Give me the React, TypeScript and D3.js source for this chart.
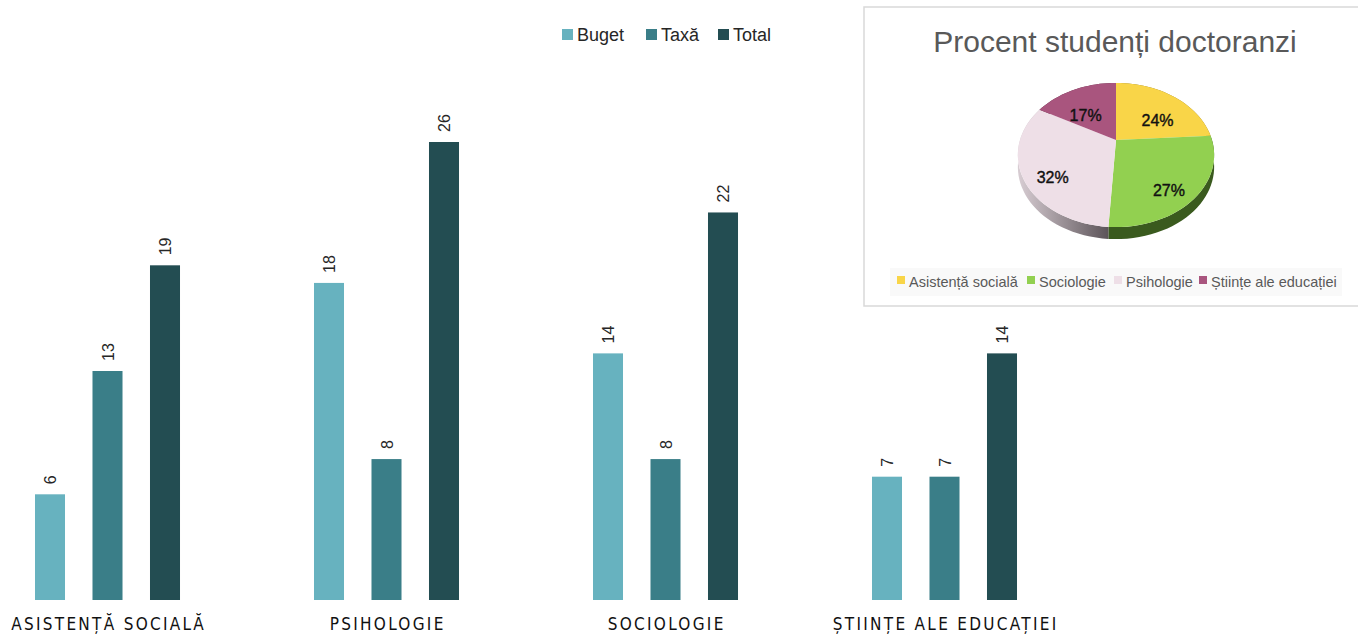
import React from "react";
import * as d3 from "d3";

const categories = ["ASISTENȚĂ SOCIALĂ", "PSIHOLOGIE", "SOCIOLOGIE", "ȘTIINȚE ALE EDUCAȚIEI"];
const seriesNames = ["Buget", "Taxă", "Total"];
const buget = [6, 18, 14, 7];
const taxa = [13, 8, 8, 7];
const total = [19, 26, 22, 14];
const seriesColors = ["#67B2BF", "#3A7E88", "#234D52"];

const pieTitle = "Procent studenți doctoranzi";
const pieLabels = ["Asistență socială", "Sociologie", "Psihologie", "Științe ale educației"];
const pieValues = [24, 27, 32, 17];
const pieColors = ["#F9D548", "#92D050", "#EEDFE7", "#A9557E"];
const pieSideColors = ["#8a7420", "#3a5a1e", "url(#pinkSide)", "#5a2a40"];

export default function App() {
  const W = 1358, H = 635;
  const seriesValues = [buget, taxa, total];

  const x0 = d3.scaleBand<string>().domain(categories).range([-32, 1084]).padding(0);
  const x1 = d3.scaleBand<string>().domain(seriesNames).range([-86.25, 86.25]).paddingInner(0.478).paddingOuter(0.239);
  const y = d3.scaleLinear().domain([0, 26]).range([600, 142]);

  // Pie projection (perspective tilt)
  const cx = 1116, cy = 140, rx = 96, ry = 69, k = 0.208, depth = 12;
  const proj = (a: number, r: number): [number, number] => {
    const u = r * Math.sin(a), v = -r * Math.cos(a);
    const den = 1 - k * v;
    return [cx + (rx * u) / den, cy + (ry * v) / den];
  };
  const arcs = d3.pie<number>().sort(null)(pieValues);
  const slicePath = (a0: number, a1: number) => {
    const n = Math.max(4, Math.ceil(((a1 - a0) / (2 * Math.PI)) * 120));
    const pts: [number, number][] = [[cx, cy]];
    for (let i = 0; i <= n; i++) pts.push(proj(a0 + ((a1 - a0) * i) / n, 1));
    return "M" + pts.map((p) => p.join(",")).join("L") + "Z";
  };
  const sidePath = (a0: number, a1: number) => {
    const n = Math.max(4, Math.ceil(((a1 - a0) / (2 * Math.PI)) * 120));
    const top: [number, number][] = [];
    for (let i = 0; i <= n; i++) top.push(proj(a0 + ((a1 - a0) * i) / n, 1));
    const bottom = top.slice().reverse().map(([px, py]) => [px, py + depth]);
    return "M" + top.concat(bottom as [number, number][]).map((p) => p.join(",")).join("L") + "Z";
  };

  const legendItems = [
    { x: 562, name: seriesNames[0], color: seriesColors[0] },
    { x: 646, name: seriesNames[1], color: seriesColors[1] },
    { x: 718, name: seriesNames[2], color: seriesColors[2] },
  ];
  const pieLegendX = [897, 1027, 1114, 1199];
  const catSpacing = 2.3;

  return (
    <svg width={W} height={H} style={{ position: "absolute", left: 0, top: 0, background: "#fff" }}
      fontFamily="'Liberation Sans', Arial, sans-serif">
      <defs>
        <linearGradient id="pinkSide" x1="1018" x2="1112" y1="0" y2="0" gradientUnits="userSpaceOnUse">
          <stop offset="0" stopColor="#d8cdd3" />
          <stop offset="1" stopColor="#574f54" />
        </linearGradient>
      </defs>

      {/* Bars */}
      {categories.map((c, ci) => {
        const center = (x0(c) as number) + x0.bandwidth() / 2;
        return (
          <g key={c}>
            {seriesNames.map((s, si) => {
              const v = seriesValues[si][ci];
              const bx = center + (x1(s) as number);
              const bw = x1.bandwidth();
              return (
                <g key={s}>
                  <rect x={bx} y={y(v)} width={bw} height={y(0) - y(v)} fill={seriesColors[si]} />
                  <text transform={`translate(${bx + bw / 2 + 6},${y(v) - 10}) rotate(-90)`}
                    fontSize={16} fill="#262626">{v}</text>
                </g>
              );
            })}
            <text x={center + catSpacing / 2} y={629.5} textAnchor="middle" fontSize={17} letterSpacing={catSpacing}
              fontFamily="'Liberation Sans Narrow', 'DejaVu Sans Condensed', Arial, sans-serif" fill="#111">{c}</text>
          </g>
        );
      })}

      {/* Bar legend */}
      {legendItems.map((it) => (
        <g key={it.name}>
          <rect x={it.x} y={29} width={11} height={11} fill={it.color} />
          <text x={it.x + 15} y={41} fontSize={18} fill="#262626">{it.name}</text>
        </g>
      ))}

      {/* Pie box */}
      <rect x={864} y={7} width={500} height={299} fill="#fff" stroke="#d9d9d9" strokeWidth={1.5} />
      <text x={1115} y={52} textAnchor="middle" fontSize={30} fill="#595959">{pieTitle}</text>

      {arcs.map((a, i) => (
        <path key={"s" + i} d={sidePath(a.startAngle, a.endAngle)} fill={pieSideColors[i]} />
      ))}
      {arcs.map((a, i) => (
        <path key={"t" + i} d={slicePath(a.startAngle, a.endAngle)} fill={pieColors[i]} />
      ))}
      {arcs.map((a, i) => {
        const [lx, ly] = proj((a.startAngle + a.endAngle) / 2, 0.7);
        return (
          <text key={"l" + i} x={lx} y={ly + 12} textAnchor="middle" dominantBaseline="central"
            fontSize={16} fill="#111" stroke="#111" strokeWidth={0.4}>{a.data + "%"}</text>
        );
      })}

      <rect x={890} y={268} width={452} height={28} fill="#f9f9f9" />
      {pieLabels.map((l, i) => (
        <g key={l}>
          <rect x={pieLegendX[i]} y={276} width={8} height={8} fill={pieColors[i]} />
          <text x={pieLegendX[i] + 12} y={287} fontSize={14.5} fill="#595959">{l}</text>
        </g>
      ))}
    </svg>
  );
}
